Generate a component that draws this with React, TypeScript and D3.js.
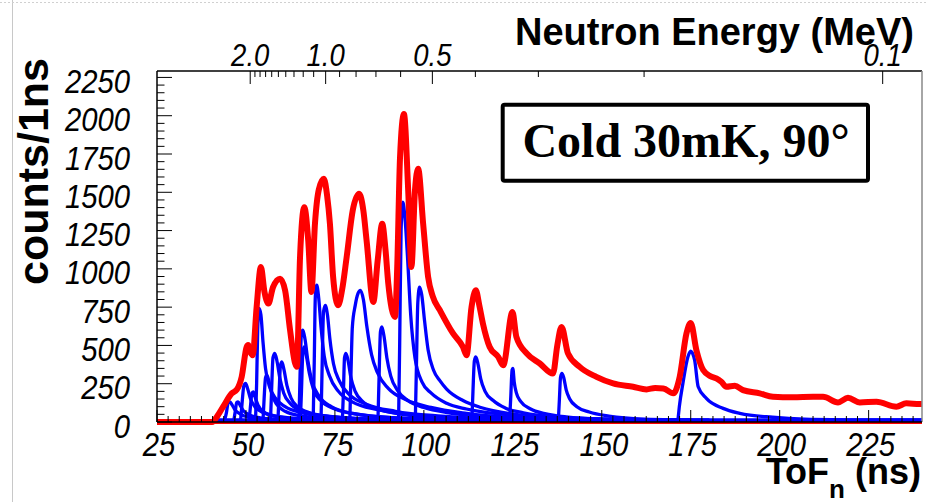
import React from "react";
import * as d3 from "d3";

// ---------- data ----------
const xTickValues = [25, 50, 75, 100, 125, 150, 175, 200, 225];
const yTickValues = [0, 250, 500, 750, 1000, 1250, 1500, 1750, 2000, 2250];
const energyMajor = [2.0, 1.0, 0.5, 0.1];
const energyLabels = ["2.0", "1.0", "0.5", "0.1"];
const energyMinor = [1.9, 1.8, 1.7, 1.6, 1.5, 1.4, 1.3, 1.2, 1.1, 0.9, 0.8, 0.7, 0.6, 0.4, 0.3, 0.2];
const tofConst = 72.4; // ns * sqrt(MeV) for the flight path

// sum spectrum (red): [ToF ns, counts]
const redSum: [number, number][] = [
  [25, 0], [40.5, 0], [42, 40], [43.6, 100], [46, 187], [47.4, 210], [48.8, 295], [50.2, 490], [50.6, 502],
  [51.5, 445], [51.9, 436], [53, 751], [54.2, 1012], [55.2, 850], [56.3, 773], [57.6, 880], [59.6, 936],
  [61, 860], [62.4, 600], [63.8, 384], [64.3, 360], [65.2, 1077], [66.4, 1403], [67.5, 1186], [68.4, 849],
  [69.4, 1296], [70.5, 1520], [71.9, 1588], [72.8, 1480], [73.6, 1294], [74.5, 947], [75.9, 762], [77, 860],
  [78.3, 1077], [80, 1380], [81.8, 1490], [83, 1380], [83.9, 1186], [85.8, 784], [87, 1050], [88.3, 1294],
  [89.2, 1130], [90, 904], [91.9, 686], [92.5, 1000], [93.3, 1728], [94.4, 2011], [95.6, 1511], [96.5, 1012],
  [97.5, 1511], [98.4, 1653], [99.8, 1294], [101.2, 947], [102.5, 820], [104.5, 730], [108.2, 578], [111, 490],
  [112, 436], [113.4, 751], [114.6, 860], [115.6, 760], [116.6, 643], [118.5, 490], [120.9, 425], [122.3, 371],
  [124.9, 719], [126, 556], [128.9, 448], [132.6, 382], [136.3, 317], [137.5, 500], [138.7, 621], [140.5, 448],
  [143.8, 360], [148.5, 295], [153.2, 252], [158.8, 230], [162.6, 213], [165, 222], [167.3, 219], [170.1, 187],
  [171.9, 295], [173.8, 578], [175, 647], [176.6, 469], [178.5, 339], [180.5, 300], [182.2, 285], [183.6, 263],
  [185, 230], [187.4, 237], [189.7, 208], [194.4, 187], [198.1, 165], [203.7, 161], [209.4, 165], [212.2, 165],
  [216.4, 128], [219.2, 158], [222.5, 128], [227.2, 132], [232.8, 100], [235.6, 122], [239.3, 117], [240, 117],
];
const redBase: [number, number][] = [[25, 0], [240, 0]];

// individual components (blue)
const blue01: [number, number][] = [[44.0, 12], [44.5, 60], [45.0, 125], [45.5, 132], [46.1, 112], [46.9, 80], [48.4, 52], [51, 32], [56, 19], [65, 13]];
const blue02: [number, number][] = [[46.6, 12], [47.0, 70], [47.4, 128], [47.8, 132], [48.3, 112], [49.2, 76], [51, 46], [54, 27], [60, 16], [75, 13]];
const blue03: [number, number][] = [[48.5, 12], [48.9, 120], [49.4, 235], [49.9, 252], [50.5, 215], [51.3, 150], [52.5, 100], [55, 60], [60, 33], [70, 17], [90, 13]];
const blue04: [number, number][] = [[50.9, 12], [51.3, 110], [51.7, 190], [52.1, 197], [52.6, 160], [53.4, 110], [55, 66], [58, 38], [65, 20], [80, 13]];
const blue05: [number, number][] = [[52.7, 12], [53.0, 250], [53.3, 600], [53.7, 741], [54.2, 700], [54.8, 520], [55.5, 350], [56.5, 240], [58, 165], [61, 100], [66, 60], [75, 32], [90, 16], [110, 13]];
const blue06: [number, number][] = [[54.8, 12], [55.1, 150], [55.5, 290], [55.9, 306], [56.5, 260], [57.3, 180], [58.5, 120], [61, 70], [66, 38], [75, 20], [95, 13]];
const blue07: [number, number][] = [[56.9, 12], [57.2, 200], [57.6, 420], [58.1, 448], [58.7, 400], [59.5, 290], [60.6, 190], [62.5, 120], [66, 70], [72, 40], [85, 19], [105, 13]];
const blue08: [number, number][] = [[59.0, 12], [59.3, 180], [59.7, 370], [60.1, 393], [60.7, 340], [61.5, 240], [62.6, 160], [64.5, 100], [68, 60], [75, 33], [90, 16], [110, 13]];
const blue09: [number, number][] = [[64.9, 12], [65.2, 300], [65.6, 580], [66.0, 600], [66.6, 540], [67.4, 400], [68.5, 270], [70.5, 170], [74, 100], [80, 56], [92, 27], [115, 13]];
const blue10: [number, number][] = [[65.3, 12], [65.6, 200], [66.0, 460], [66.4, 490], [67.0, 430], [67.8, 320], [69, 210], [71, 140], [75, 85], [82, 48], [95, 24], [120, 13]];
const blue11: [number, number][] = [[68.9, 12], [69.2, 400], [69.5, 820], [69.9, 893], [70.4, 820], [71.1, 620], [72, 430], [73.5, 300], [76, 200], [80, 130], [87, 80], [97, 45], [115, 22], [140, 13]];
const blue12: [number, number][] = [[71.1, 12], [71.4, 350], [71.8, 720], [72.3, 762], [72.9, 700], [73.6, 540], [74.6, 380], [76.2, 270], [79, 180], [84, 115], [92, 70], [105, 38], [125, 18], [150, 13]];
const blue13: [number, number][] = [[77.1, 12], [77.4, 200], [77.7, 420], [78.1, 448], [78.7, 400], [79.5, 290], [80.7, 200], [83, 130], [87, 85], [94, 50], [105, 27], [125, 14]];
const blue14: [number, number][] = [[79.2, 12], [79.5, 300], [79.9, 620], [80.7, 760], [81.5, 840], [82.2, 860], [83, 800], [84, 620], [85.3, 440], [87, 320], [90, 220], [95, 145], [102, 95], [112, 56], [130, 24], [155, 13]];
const blue15: [number, number][] = [[87.1, 12], [87.4, 280], [87.8, 590], [88.2, 621], [88.8, 560], [89.6, 420], [90.7, 300], [92.5, 210], [95.5, 140], [100, 95], [107, 60], [118, 34], [135, 17], [160, 13]];
const blue16: [number, number][] = [[92.9, 12], [93.2, 500], [93.6, 1250], [94.1, 1435], [94.7, 1330], [95.4, 1080], [96.3, 700], [97.5, 420], [99.5, 260], [102, 190], [106.4, 122], [112, 85], [116, 67], [125, 45], [140, 24], [165, 13]];
const blue17: [number, number][] = [[97.6, 12], [97.9, 350], [98.3, 780], [98.8, 881], [99.4, 830], [100.2, 660], [101.2, 470], [102.7, 340], [104.5, 270], [106.4, 215], [111, 140], [116, 95], [125, 52], [140, 26], [165, 13]];
const blue18: [number, number][] = [[113.5, 12], [113.8, 200], [114.2, 400], [114.6, 425], [115.2, 380], [116, 280], [117.2, 200], [119.5, 140], [123, 90], [128, 60], [137, 33], [155, 16], [175, 13]];
const blue19: [number, number][] = [[124.1, 12], [124.4, 150], [124.8, 340], [125.0, 350], [125.4, 260], [126, 190], [127.2, 135], [130, 85], [134, 55], [140, 33], [152, 17], [170, 13]];
const blue20: [number, number][] = [[137.8, 12], [138.1, 150], [138.4, 290], [138.8, 317], [139.3, 290], [140, 210], [141, 150], [143, 100], [146.5, 65], [152, 38], [162, 19], [180, 13]];
const blue21: [number, number][] = [[171.4, 12], [171.8, 100], [172.8, 252], [174.2, 425], [175.0, 462], [176.1, 404], [177.1, 230], [179.4, 154], [184.1, 89], [188.8, 57], [198, 31], [207, 19], [225, 14], [240, 13]];
const blueBase: [number, number][] = [[40.5, 0], [42.5, 13], [240, 13]];

const blueSeries = [blue01, blue02, blue03, blue04, blue05, blue06, blue07, blue08, blue09, blue10, blue11,
  blue12, blue13, blue14, blue15, blue16, blue17, blue18, blue19, blue20, blue21, blueBase];

// ---------- layout ----------
const W = 928, H = 502;
const PL = 157, PR = 922, PT = 71, PB = 422;

export default function App() {
  const x = d3.scaleLinear().domain([25, 240]).range([PL, PR]);
  const y = d3.scaleLinear().domain([0, 2292]).range([PB, PT]);
  const line = d3.line<[number, number]>().x(d => x(d[0])).y(d => y(d[1])).curve(d3.curveMonotoneX);
  const eToX = (e: number) => x(tofConst / Math.sqrt(e));

  const yMinor = d3.range(0, 2292, 50).filter(v => v % 250 !== 0);
  const xMinor = d3.range(25, 240.01, 25 / 8).filter(v => Math.abs(((v - 25) / 25) - Math.round((v - 25) / 25)) > 1e-6);

  const tickFont = "'Liberation Sans', Arial, Helvetica, sans-serif";

  return (
    <svg width={W} height={H} style={{ position: "fixed", left: 0, top: 0, background: "#fff" }}>
      <defs>
        <clipPath id="plotclip">
          <rect x={PL} y={PT - 10} width={PR - PL} height={PB - PT + 14} />
        </clipPath>
      </defs>
      {/* canvas decorations */}
      <line x1={12.5} x2={12.5} y1={0} y2={H} stroke="#c8c8c8" strokeWidth={1} />
      <line x1={0} x2={W} y1={2.5} y2={2.5} stroke="#d0d0d0" strokeWidth={1} strokeDasharray="2,2" />

      {/* curves */}
      <g clipPath="url(#plotclip)" fill="none" strokeLinejoin="round" strokeLinecap="round">
        <path d={line(redBase) || ""} stroke="#ff0000" strokeWidth={4} />
        {blueSeries.map((s, i) => (
          <path key={i} d={line(s) || ""} stroke="#0000ff" strokeWidth={3.3} />
        ))}
        <path d={line(redSum) || ""} stroke="#ff0000" strokeWidth={6} />
      </g>

      {/* frame */}
      <line x1={PL} x2={PR} y1={PT} y2={PT} stroke="#000" strokeWidth={1.5} />
      <line x1={PR} x2={PR} y1={PT} y2={PB} stroke="#888" strokeWidth={1.5} />
      <line x1={PL} x2={PL} y1={PT} y2={PB} stroke="#000" strokeWidth={1.5} />
      <line x1={PL} x2={PR} y1={PB} y2={PB} stroke="#000" strokeWidth={1.5} />

      {/* left axis ticks */}
      {yTickValues.map(v => (
        <line key={"ym" + v} x1={PL} x2={PL + 15} y1={y(v)} y2={y(v)} stroke="#000" strokeWidth={1} />
      ))}
      {yMinor.map(v => (
        <line key={"yn" + v} x1={PL} x2={PL + 7.5} y1={y(v)} y2={y(v)} stroke="#000" strokeWidth={1} />
      ))}
      {yTickValues.map(v => (
        <text key={"yl" + v} transform={`translate(130,${y(v) + 15.5}) scale(0.86,1)`} textAnchor="end"
          fontFamily={tickFont} fontStyle="italic" fontSize={34} fill="#000">{v}</text>
      ))}

      {/* bottom axis ticks */}
      {xTickValues.map(v => (
        <line key={"xm" + v} x1={x(v)} x2={x(v)} y1={PB} y2={PB - 12} stroke="#000" strokeWidth={1} />
      ))}
      {xMinor.map(v => (
        <line key={"xn" + v} x1={x(v)} x2={x(v)} y1={PB} y2={PB - 6} stroke="#000" strokeWidth={1} />
      ))}
      {xTickValues.map(v => (
        <text key={"xl" + v} transform={`translate(${x(v) + 2},456) scale(0.86,1)`} textAnchor="middle"
          fontFamily={tickFont} fontStyle="italic" fontSize={34} fill="#000">{v}</text>
      ))}

      {/* top energy axis */}
      {energyMajor.map(e => (
        <line key={"em" + e} x1={eToX(e)} x2={eToX(e)} y1={PT} y2={PT + 13} stroke="#000" strokeWidth={1} />
      ))}
      {energyMinor.map(e => (
        <line key={"en" + e} x1={eToX(e)} x2={eToX(e)} y1={PT} y2={PT + 6} stroke="#000" strokeWidth={1} />
      ))}
      {energyMajor.map((e, i) => (
        <text key={"el" + e} transform={`translate(${eToX(e)},66) scale(0.86,1)`} textAnchor="middle"
          fontFamily={tickFont} fontStyle="italic" fontSize={32} fill="#000">{energyLabels[i]}</text>
      ))}

      {/* titles */}
      <text x={914} y={45} textAnchor="end" fontFamily={tickFont} fontWeight="bold" fontSize={38} fill="#000">
        Neutron Energy (MeV)
      </text>
      <text transform="translate(48,58) rotate(-90)" textAnchor="end" fontFamily={tickFont} fontWeight="bold"
        fontSize={43} fill="#000">counts/1ns</text>
      <text x={921} y={484} textAnchor="end" fontFamily={tickFont} fontWeight="bold" fontSize={36} fill="#000">
        ToF<tspan dy={14} fontSize={26}>n</tspan><tspan dy={-14}> (ns)</tspan>
      </text>

      {/* label box */}
      <rect x={502.7} y={104.7} width={365.3} height={76} rx={2} fill="#fff" stroke="#000" strokeWidth={4} />
      <text x={686} y={157} textAnchor="middle" fontFamily="'Liberation Serif', 'Times New Roman', serif"
        fontWeight="bold" fontSize={48} fill="#000">Cold 30mK, 90°</text>
    </svg>
  );
}
